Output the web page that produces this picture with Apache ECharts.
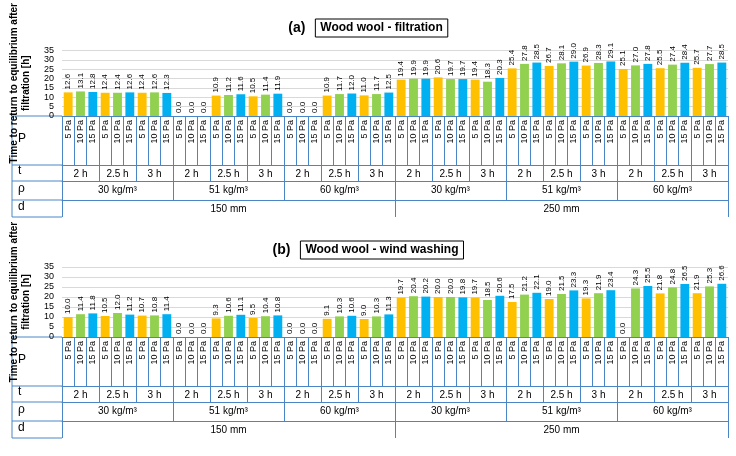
<!DOCTYPE html>
<html><head><meta charset="utf-8">
<script src="https://cdn.jsdelivr.net/npm/echarts@6/dist/echarts.min.js"></script>
<style>html,body{margin:0;padding:0;background:#fff}#c{width:736px;height:456px}</style>
</head><body><div id="c"></div>
<script>
var pressures = ['5 Pa', '10 Pa', '15 Pa'];
var times = ['2 h', '2.5 h', '3 h'];
var densities = ['30 kg/m³', '51 kg/m³', '60 kg/m³'];
var thicknesses = ['150 mm', '250 mm'];
var yTicks = [0, 5, 10, 15, 20, 25, 30, 35];

// panel (a) filtration: 18 groups (d > rho > t), one value per pressure
var filt5  = [12.6,12.4,12.4, 0.0,10.9,10.5, 0.0,10.9,11.0, 19.4,20.6,19.4, 25.4,26.7,26.9, 25.1,25.5,25.7];
var filt10 = [13.1,12.4,12.6, 0.0,11.2,11.4, 0.0,11.7,11.7, 19.9,19.7,18.3, 27.8,28.1,28.3, 27.0,27.4,27.7];
var filt15 = [12.8,12.6,12.3, 0.0,11.6,11.9, 0.0,12.0,12.5, 19.9,19.7,20.3, 28.5,29.0,29.1, 27.8,28.4,28.5];
// panel (b) wind washing
var wash5  = [10.0,10.5,10.7, 0.0,9.3,9.5, 0.0,9.1,9.0, 19.7,20.0,19.7, 17.5,19.0,19.3, 0.0,21.8,21.9];
var wash10 = [11.4,12.0,10.8, 0.0,10.6,10.4, 0.0,10.3,10.3, 20.4,20.0,18.5, 21.2,21.5,21.9, 24.3,24.8,25.3];
var wash15 = [11.8,11.2,11.4, 0.0,11.1,10.8, 0.0,10.6,11.3, 20.2,19.8,20.6, 22.1,23.3,23.4, 25.5,26.5,26.6];

var colors = ['#ffc000', '#92d050', '#00b0f0'];
var lineCol = '#4a86c5';

var pCats = [], tCats = [], rCats = [];
for (var i = 0; i < 18; i++) { tCats.push(times[i % 3]); for (var j = 0; j < 3; j++) pCats.push(pressures[j]); }
for (var i = 0; i < 6; i++) rCats.push(densities[i % 3]);

function interleave(a, b, c) {
    var out = [];
    for (var i = 0; i < a.length; i++) {
        [a[i], b[i], c[i]].forEach(function (v, k) {
            out.push({ value: v, itemStyle: { color: colors[k] } });
        });
    }
    return out;
}

var gridL = 62, gridR = 8;
var panels = [
    { top: 47, zero: 116, name: 'Wood wool - filtration', tag: '(a)', titleY: 14, data: interleave(filt5, filt10, filt15) },
    { top: 267, zero: 337, name: 'Wood wool - wind washing', tag: '(b)', titleY: 236, data: interleave(wash5, wash10, wash15) }
];
var rows = [[pCats, 49, 9, 90], [tCats, 16, 10, 0], [rCats, 19, 10, 0], [thicknesses, 17, 10, 0]];

var option = { animation: false, grid: [], xAxis: [], yAxis: [], series: [], title: [], graphic: [] };
panels.forEach(function (p, pi) {
    option.grid.push({ left: gridL, right: gridR, top: p.top, height: p.zero - p.top });
    option.title.push({
        left: 'center', top: p.titleY,
        text: '{b|' + p.tag + '}  {box|' + p.name + '}',
        textStyle: { rich: {
            b: { fontSize: 14, fontWeight: 'bold', color: '#000', fontFamily: 'Liberation Sans' },
            box: { fontSize: 12, color: '#000', borderColor: '#000', borderWidth: 1, padding: [3, 5], fontFamily: 'Liberation Sans' }
        } }
    });
    var off = 0;
    rows.forEach(function (r, ri) {
        option.xAxis.push({
            type: 'category', gridIndex: pi, data: r[0], position: 'bottom', offset: off,
            axisLine: { show: true, lineStyle: { color: lineCol } },
            axisTick: { show: true, interval: 0, length: r[1], lineStyle: { color: lineCol } },
            axisLabel: { interval: 0, rotate: r[3], fontSize: r[2], color: '#000', margin: 4, fontFamily: 'Liberation Sans' }
        });
        option.graphic.push({ type: 'text', left: 18, top: p.zero + off + r[1] / 2 - 8,
            style: { text: ['P', 't', 'ρ', 'd'][ri], fontSize: 12, fill: '#000', fontFamily: 'Liberation Sans' } });
        option.graphic.push({ type: 'line', shape: { x1: 12, y1: p.zero + off + r[1], x2: gridL, y2: p.zero + off + r[1] },
            style: { stroke: lineCol } });
        off += r[1];
    });
    option.graphic.push({ type: 'line', shape: { x1: 12, y1: p.zero, x2: gridL, y2: p.zero }, style: { stroke: lineCol } });
    option.graphic.push({ type: 'line', shape: { x1: 12, y1: p.zero, x2: 12, y2: p.zero + off }, style: { stroke: lineCol } });
    option.yAxis.push({
        type: 'value', gridIndex: pi, min: yTicks[0], max: yTicks[yTicks.length - 1], interval: 5,
        name: 'Time to return to equilibrium after\nfiltration [h]', nameLocation: 'middle', nameGap: 30,
        nameTextStyle: { fontSize: 10, fontWeight: 'bold', color: '#000', fontFamily: 'Liberation Sans', lineHeight: 12 },
        axisLine: { show: false }, axisTick: { show: false },
        axisLabel: { fontSize: 9, color: '#000', fontFamily: 'Liberation Sans', hideOverlap: false,
            showMinLabel: true, showMaxLabel: true, lineHeight: 9 },
        splitLine: { lineStyle: { color: '#d9d9d9' } }
    });
    option.series.push({
        type: 'bar', xAxisIndex: pi * 4, yAxisIndex: pi, data: p.data, barWidth: '72%',
        label: { show: true, position: 'top', rotate: 90, align: 'left', verticalAlign: 'middle', distance: 3,
            fontSize: 8, color: '#000', fontFamily: 'Liberation Sans',
            formatter: function (d) { return d.value.toFixed(1); } }
    });
});
echarts.init(document.getElementById('c')).setOption(option);
</script></body></html>
